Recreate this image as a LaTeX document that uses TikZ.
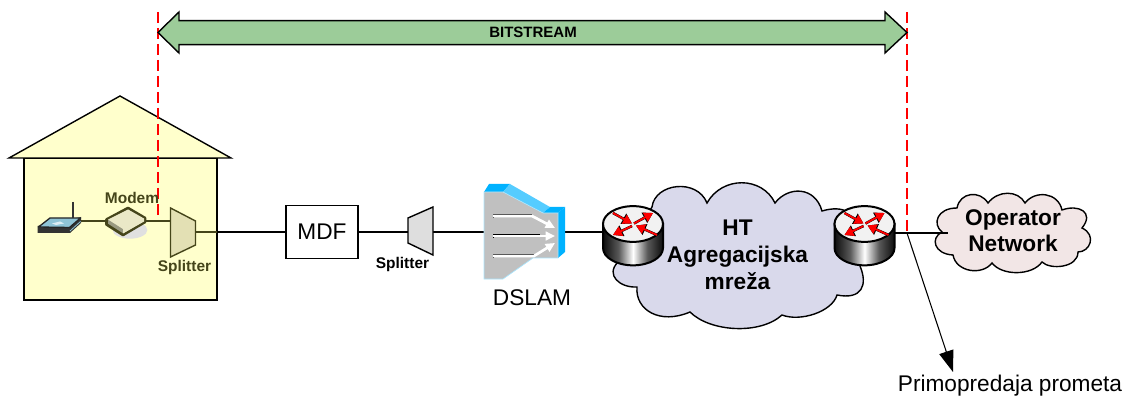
\documentclass[tikz,border=0pt]{standalone}
\usepackage{fontspec}
\setmainfont{Liberation Sans}
\usetikzlibrary{arrows.meta}
\definecolor{houseyel}{HTML}{FFFFCC}
\definecolor{olivedk}{HTML}{45451A}
\definecolor{splityel}{HTML}{E3E0B4}
\definecolor{arrowgrn}{HTML}{9CCC99}
\definecolor{cloudblue}{HTML}{D9D9EB}
\definecolor{cloudpink}{HTML}{F2E6E6}
\definecolor{dslamgray}{HTML}{C0C0C0}
\definecolor{deepblue}{HTML}{00B2FF}
\definecolor{lightblue}{HTML}{55CCFF}
\definecolor{apblue}{HTML}{8FC4D6}
\pgfdeclarehorizontalshading{cylshade}{100bp}{
  rgb(0bp)=(0.05,0.05,0.05);
  rgb(25bp)=(0.05,0.05,0.05);
  rgb(38bp)=(0.35,0.35,0.35);
  rgb(50bp)=(1,1,1);
  rgb(62bp)=(0.35,0.35,0.35);
  rgb(75bp)=(0.05,0.05,0.05);
  rgb(100bp)=(0.05,0.05,0.05)}
\tikzset{
  outl/.style={draw=black,line width=1.05pt,line join=miter},
  wire/.style={draw=black,line width=.8pt},
  olivewire/.style={draw=olivedk,line width=.8pt},
  reddash/.style={draw=red,line width=.85pt,dash pattern=on 8pt off 4pt},
  bigtxt/.style={font=\fontsize{17}{20.25}\selectfont,align=center,inner sep=0pt},
  boldtxt/.style={font=\fontsize{17}{20.25}\selectfont\bfseries,align=center,inner sep=0pt},
  smalltxt/.style={font=\fontsize{11.6}{14}\selectfont\bfseries,inner sep=0pt},
  redarrow/.style={draw=red,line width=1.4pt,-{Triangle[length=6.6pt,width=7.4pt]},red},
  darkarrow/.style={draw=black,line width=1.9pt,-{Triangle[length=7.4pt,width=8.4pt]},black},
  whitearrow/.style={draw=white,line width=2pt,-{Triangle[length=7pt,width=6.5pt]},white,line join=miter},
}
\newcommand{\routerat}[2]{%
  \begin{scope}[shift={(#1,#2)}]
    \path[shading=cylshade,draw=black,line width=1.5pt]
      (-30,0) -- (-30,24) arc[start angle=180,end angle=360,x radius=22.5pt,y radius=13pt] -- (30,0) -- cycle;
    \path[fill=black!5,draw=black,line width=1.5pt] (0,0) ellipse[x radius=22.5pt,y radius=13.4pt];
    \foreach \ax/\ay/\bx/\by in {-20/-11/-1/-0.5, 1/-0.5/20/-11, -1/2/-20/11, 24/11/3/1.5}{
      \draw[darkarrow] (\ax,\ay) -- (\bx,\by);
      \draw[redarrow] (\ax,\ay) -- (\bx,\by);
    }
  \end{scope}}
\begin{document}
\begin{tikzpicture}[x=.75pt,y=-.75pt]
\useasboundingbox (0,0) rectangle (1125,399);
% house
\path[fill=houseyel,outl] (24,158) rectangle (217,300);
\path[fill=houseyel,outl] (120,96) -- (231,158) -- (9,158) -- cycle;
% red dashes
\coordinate (redLtop) at (158,12);
\coordinate (redLend) at (158,221);
\coordinate (redRtop) at (907,12);
\coordinate (redRend) at (907,233);
\draw[reddash] (redLtop) -- (redLend);
\draw[reddash] (redRtop) -- (redRend);
% bitstream arrow
\path[fill=arrowgrn,outl] (158,32.5) -- (179,12) -- (179,20.7) -- (885,20.7) -- (885,12) -- (907,32.5) -- (885,53) -- (885,44.7) -- (179,44.7) -- (179,53) -- cycle;
\node[inner sep=0pt,font=\fontsize{11.25}{13}\selectfont\bfseries] (bitstream) at (533,32) {BITSTREAM};
% coordinates
\coordinate (apR) at (81,221);
\coordinate (modL) at (106,221);
\coordinate (modR) at (146,221);
\coordinate (splAl) at (170.5,221);
\coordinate (splAr) at (195.5,232);
\coordinate (houseWall) at (217,232);
\coordinate (spl2l) at (408,232);
\coordinate (spl2r) at (433,232);
\coordinate (dslamL) at (484,232);
\coordinate (dslamR) at (565,232);
\coordinate (rtAl) at (603,232);
\coordinate (rtBr) at (895,233);
\coordinate (opL) at (948,233);
\coordinate (handover) at (907,233);
\coordinate (handEnd) at (953,372);
% clouds
\path[fill=cloudblue,outl] (652,207) .. controls (655,183) and (697,178) .. (707,203)
  .. controls (722,176) and (762,176) .. (775,203)
  .. controls (788,186) and (815,186) .. (822,211)
  .. controls (832,208) and (842,208) .. (847,212)
  -- (860,266) .. controls (868,285) and (862,300) .. (837,295)
  .. controls (832,312) and (800,322) .. (782,315)
  .. controls (760,335) and (710,332) .. (690,312)
  .. controls (660,325) and (635,310) .. (637,287)
  .. controls (620,288) and (605,275) .. (618,262) -- cycle;
\path[fill=cloudpink,outl] (942,232) .. controls (932,224) and (937,208) .. (957,208)
  .. controls (960,192) and (980,190) .. (988,203)
  .. controls (998,190) and (1018,190) .. (1025,203)
  .. controls (1035,190) and (1058,192) .. (1062,210)
  .. controls (1078,204) and (1095,212) .. (1082,228)
  .. controls (1097,235) and (1090,252) .. (1078,252)
  .. controls (1078,268) and (1050,270) .. (1042,262)
  .. controls (1032,276) and (1002,276) .. (992,263)
  .. controls (982,276) and (956,272) .. (953,255)
  .. controls (934,254) and (930,238) .. (942,232) -- cycle;
% connectors
\draw[olivewire] (apR) -- (modL);
\draw[olivewire] (modR) -- (splAl);
\node[draw=black,line width=1.05pt,fill=white,minimum width=54pt,minimum height=39.75pt,inner sep=0pt,bigtxt] (mdf) at (322,232) {MDF};
\draw[wire] (houseWall) -- (mdf.west);
\draw[olivewire] (splAr) -- (houseWall);
\draw[wire] (mdf.east) -- (spl2l);
\draw[wire] (spl2r) -- (dslamL);
\draw[wire] (dslamR) -- (rtAl);
\draw[wire] (rtBr) -- (opL);
\draw[draw=black,line width=.8pt,-{Triangle[length=16pt,width=11pt]}] (handover) -- (handEnd);
% access point
\draw[black!80,line width=1.1pt] (73,202) -- (73,220);
\path[fill=black!80] (37.5,226) -- (37.5,233) -- (70,233) -- (81,223) -- (81,217) -- cycle;
\path[fill=apblue,draw=black!85,line width=1pt,line join=round] (38.5,227) -- (50,218) -- (80.5,218) -- (69.5,227.5) -- cycle;
\path[fill=white!70!apblue] (52,223.5) -- (60,221.5) -- (64,223.5) -- (56,225) -- cycle;
\draw[apblue,line width=.6pt] (70,231) -- (80.5,221.5);
% modem
\path[fill=black!12] (130,230) ellipse[x radius=13pt,y radius=6.5pt];
\path[fill=olivedk!55,draw=olivedk,line width=2pt,line join=round] (106.5,219.5) -- (128,208) -- (145,218) -- (145,222) -- (123,235) -- (106.5,224.5) -- cycle;
\path[fill=splityel!75!white] (108,219.5) -- (128,209.5) -- (144,218.5) -- (144,221.5) -- (123,233.5) -- (123,229) -- cycle;
\node[inner sep=0pt,text=olivedk,font=\fontsize{11.6}{13}\selectfont\bfseries] (modemtxt) at (132,198) {Modem};
% house splitter
\path[fill=splityel,draw=olivedk,line width=1.05pt] (170.5,208) -- (195.5,221) -- (195.5,245) -- (170.5,257) -- cycle;
\node[smalltxt,text=olivedk] (spl1txt) at (184.5,268) {Splitter};
% second splitter
\path[fill=black!13,outl] (408,218) -- (433,207) -- (433,255) -- (408,243) -- cycle;
\node[smalltxt] (spl2txt) at (402.5,265) {Splitter};
% dslam
\path[fill=deepblue] (484,192) -- (489,184) -- (510,184) -- (503,192) -- cycle;
\path[fill=lightblue] (503,192) -- (510,184) -- (550,207) -- (543,213) -- cycle;
\path[fill=deepblue] (543,213) -- (550,207) -- (565,207) -- (558,213) -- cycle;
\path[fill=deepblue] (558,213) -- (565,207) -- (565,252) -- (558,258) -- cycle;
\path[fill=dslamgray,draw=lightblue!50,line width=.5pt] (484,192) -- (503,192) -- (543,213) -- (558,213) -- (558,258) -- (533,258) -- (503,279) -- (484,279) -- cycle;
\foreach \yy/\ty/\mx in {216/228/532, 236/236/540, 256/243/534}{
  \draw[black,line width=.7pt] (493,\yy-1.7) -- (\mx,\yy-1.7);
  \draw[black,line width=.7pt] (493,\yy-1.7) -- (493,\yy+1.7);
  \draw[whitearrow] (493,\yy) -- (\mx,\yy) -- (555,\ty);
}
\node[bigtxt] (dslamtxt) at (532,298) {DSLAM};
% routers
\routerat{633}{224}
\routerat{864.5}{224}
% cloud text
\node[boldtxt] (cloudtxt) at (737.5,255) {HT\\Agregacijska\\mreža};
\node[boldtxt,font=\fontsize{17}{19.5}\selectfont\bfseries] (optxt) at (1013,231) {Operator\\Network};
\node[bigtxt] (handtxt) at (1010,386) {Primopredaja prometa};
\end{tikzpicture}
\end{document}
